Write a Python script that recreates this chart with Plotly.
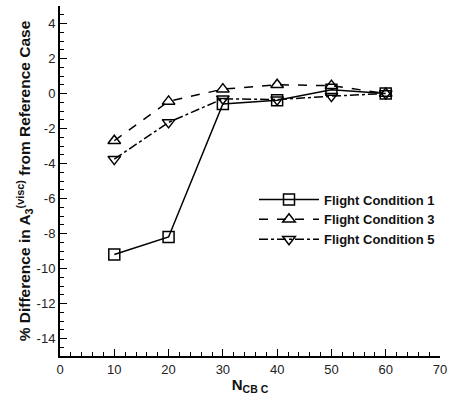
import plotly.graph_objects as go

# Grid resolution parameter and % difference for each flight condition
n_cbc = [10, 20, 30, 40, 50, 60]
fc1 = [-9.2, -8.2, -0.6, -0.38, 0.22, 0.0]
fc3 = [-2.7, -0.45, 0.25, 0.5, 0.45, 0.0]
fc5 = [-3.75, -1.65, -0.3, -0.35, -0.15, 0.0]

y_ticks = [4, 2, 0, -2, -4, -6, -8, -10, -12, -14]
x_ticks = [0, 10, 20, 30, 40, 50, 60, 70]

font_family = "Liberation Sans, Arial, sans-serif"

fig = go.Figure()
series = [
    ("Flight Condition 1", fc1, "square-open", "solid"),
    ("Flight Condition 3", fc3, "triangle-up-open", "dash"),
    ("Flight Condition 5", fc5, "triangle-down-open", "dashdot"),
]
for name, ys, sym, dash in series:
    fig.add_trace(go.Scatter(
        x=n_cbc, y=ys, name=name, mode="lines+markers",
        line=dict(color="black", width=1.5, dash=dash),
        marker=dict(symbol=sym, size=11, color="black",
                    line=dict(color="black", width=1.5)),
    ))

fig.update_layout(
    width=453, height=398,
    margin=dict(l=60, r=8, t=6, b=42),
    plot_bgcolor="white", paper_bgcolor="white",
    font=dict(family=font_family, size=13, color="#111"),
    showlegend=True,
    legend=dict(
        x=1.0, xanchor="right", y=0.49, yanchor="top",
        bgcolor="rgba(255,255,255,0)", itemwidth=60,
        font=dict(family=font_family, size=13, color="#111", weight="bold"),
        tracegroupgap=0,
    ),
)

fig.update_xaxes(
    range=[0, 70], tickvals=x_ticks, ticktext=[str(v) for v in x_ticks],
    ticks="inside", ticklen=7, tickwidth=1.2, tickcolor="black",
    showline=True, linecolor="black", linewidth=2, mirror=False,
    showgrid=False, zeroline=False,
    minor=dict(ticks="inside", ticklen=4, dtick=2, tickcolor="black", tickwidth=1),
    tickfont=dict(size=13, color="#222"),
    title=dict(text="<b>N<sub>CB C</sub></b>", font=dict(size=15, color="#111"), standoff=4),
)
fig.update_yaxes(
    range=[-15, 5], tickvals=y_ticks,
    ticktext=[str(v) for v in y_ticks],
    ticks="inside", ticklen=7, tickwidth=1.2, tickcolor="black",
    showline=True, linecolor="black", linewidth=2, mirror=False,
    showgrid=False, zeroline=False,
    minor=dict(ticks="inside", ticklen=4, dtick=0.5, tickcolor="black", tickwidth=1),
    tickfont=dict(size=13, color="#222"),
    title=dict(text="<b>% Difference in A<sub>3</sub><sup>(visc)</sup> from Reference Case</b>",
               font=dict(size=15.5, color="#111"), standoff=2),
)

fig.write_html("out.html")
